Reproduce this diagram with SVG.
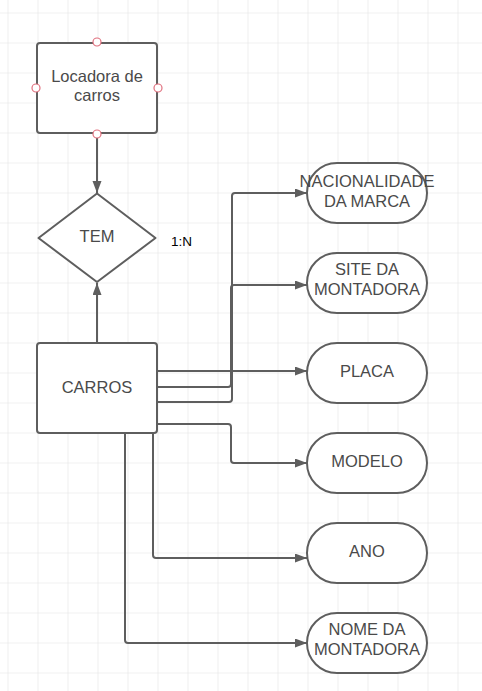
<svg xmlns="http://www.w3.org/2000/svg" width="482" height="691" viewBox="0 0 482 691">
<style>
.shape{fill:#ffffff;stroke:#5e5e5e;stroke-width:2}
.conn{fill:none;stroke:#5e5e5e;stroke-width:2}
.lbl{font-family:"Liberation Sans",Arial,sans-serif;font-size:16.5px;fill:#4a4a4a;text-anchor:middle}
.note{font-family:"Liberation Sans",Arial,sans-serif;font-size:13.5px;fill:#000000}
.pt{fill:#ffffff;stroke:#e0707e;stroke-width:1.2}
</style>
<defs>
<pattern id="grid" x="7.5" y="12.5" width="30" height="30" patternUnits="userSpaceOnUse">
<path d="M0 0 H30 M0 0 V30" fill="none" stroke="#e4e4e4" stroke-width="1.2"/>
</pattern>
<marker id="arr" markerUnits="userSpaceOnUse" markerWidth="13" markerHeight="10" refX="12" refY="4.5" orient="auto">
<path d="M0 0 L12 4.5 L0 9 Z" fill="#5e5e5e"/>
</marker>
</defs>
<rect x="0" y="0" width="482" height="691" fill="#ffffff"/>
<rect x="0" y="0" width="482" height="691" fill="url(#grid)"/>
<g id="connectors">
<path class="conn" d="M97 134 V193" marker-end="url(#arr)"/>
<path class="conn" d="M97 342 V283" marker-end="url(#arr)"/>
<path class="conn" d="M157 371 H307" marker-end="url(#arr)"/>
<path class="conn" d="M157 402 H229 Q232 402 232 399 V196 Q232 193 235 193 H307" marker-end="url(#arr)"/>
<path class="conn" d="M157 387 H228 Q231 387 231 384 V288 Q231 285 234 285 H307" marker-end="url(#arr)"/>
<path class="conn" d="M157 424 H228 Q231 424 231 427 V460 Q231 463 234 463 H307" marker-end="url(#arr)"/>
<path class="conn" d="M153 433 V555 Q153 558 156 558 H307" marker-end="url(#arr)"/>
<path class="conn" d="M125 433 V640 Q125 643 128 643 H307" marker-end="url(#arr)"/>
</g>
<g id="locadora">
<rect class="shape" x="37" y="43" width="120" height="90" rx="3"/>
<text class="lbl" x="97" y="81.7">Locadora de</text>
<text class="lbl" x="97" y="101">carros</text>
<circle class="pt" cx="97" cy="42" r="4"/>
<circle class="pt" cx="36" cy="88" r="4"/>
<circle class="pt" cx="158" cy="88" r="4"/>
<circle class="pt" cx="97" cy="134" r="4"/>
</g>
<g id="tem">
<path class="shape" d="M97 193.5 L155.5 238 L97 282 L38.5 238 Z" stroke-linejoin="round"/>
<text class="lbl" x="97" y="241.7">TEM</text>
</g>
<text class="note" x="171" y="246">1:N</text>
<g id="carros">
<rect class="shape" x="37" y="343" width="120" height="90" rx="3"/>
<text class="lbl" x="97" y="392.7">CARROS</text>
</g>
<g id="nacionalidade">
<rect class="shape" x="307" y="163" width="120" height="60" rx="30"/>
<text class="lbl" x="367" y="186.7">NACIONALIDADE</text>
<text class="lbl" x="367" y="206.7">DA MARCA</text>
</g>
<g id="site">
<rect class="shape" x="307" y="253" width="120" height="60" rx="30"/>
<text class="lbl" x="367" y="275">SITE DA</text>
<text class="lbl" x="367" y="294.5">MONTADORA</text>
</g>
<g id="placa">
<rect class="shape" x="307" y="343" width="120" height="60" rx="30"/>
<text class="lbl" x="367" y="377">PLACA</text>
</g>
<g id="modelo">
<rect class="shape" x="307" y="433" width="120" height="60" rx="30"/>
<text class="lbl" x="367" y="466.7">MODELO</text>
</g>
<g id="ano">
<rect class="shape" x="307" y="523" width="120" height="60" rx="30"/>
<text class="lbl" x="367" y="557">ANO</text>
</g>
<g id="nome">
<rect class="shape" x="307" y="613" width="120" height="60" rx="30"/>
<text class="lbl" x="367" y="635.3">NOME DA</text>
<text class="lbl" x="367" y="655.3">MONTADORA</text>
</g>
</svg>
